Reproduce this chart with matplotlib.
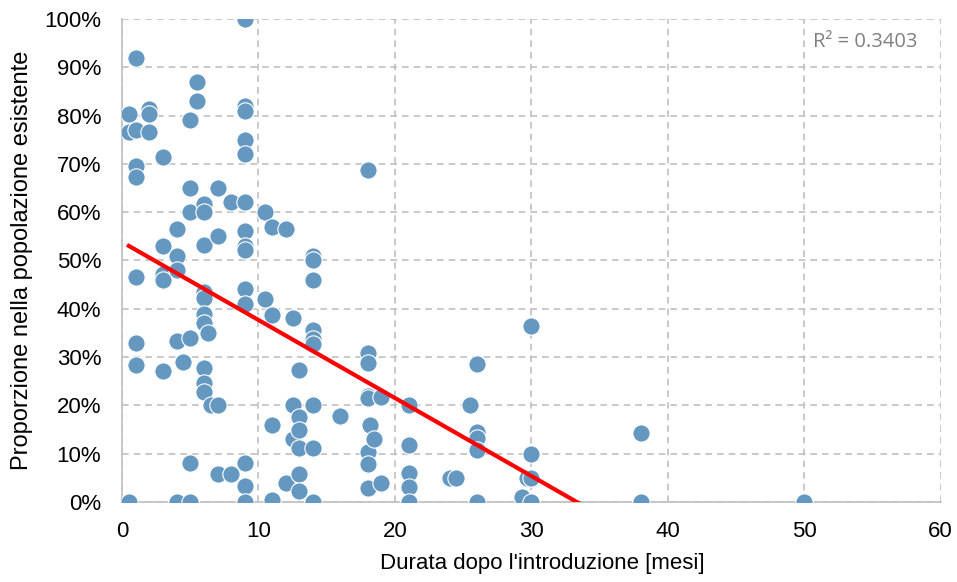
import numpy as np
import matplotlib.pyplot as plt
from matplotlib.ticker import FuncFormatter

plt.rcParams['font.family'] = ['Liberation Sans', 'DejaVu Sans']

# Months after introduction and share of the existing population (%)
mesi = [0.5, 0.5, 0.5,
        1, 1, 1, 1, 1, 1, 1,
        2, 2, 2,
        3, 3, 3, 3, 3,
        4, 4, 4, 4, 4, 4.5,
        5, 5, 5, 5, 5, 5, 5.5, 5.5,
        6, 6, 6, 6, 6, 6, 6, 6, 6, 6, 6.3, 6.5,
        7, 7, 7, 7, 8, 8,
        9, 9, 9, 9, 9, 9, 9, 9, 9, 9, 9, 9, 9, 9,
        10.5, 10.5, 11, 11, 11, 11, 12, 12, 12.5, 12.5, 12.5,
        13, 13, 13, 13, 13, 13,
        14, 14, 14, 14, 14, 14, 14, 14, 14,
        16, 18, 18, 18, 18, 18, 18, 18, 18, 18.2, 18.5, 19, 19,
        21, 21, 21, 21, 21, 24, 24.5, 25.5,
        26, 26, 26, 26, 26,
        29.3, 29.7, 30, 30, 30, 30,
        38, 38, 50]
quota = [0, 80.3, 76.5,
         92, 77, 69.5, 67.2, 46.6, 33, 28.4,
         81.3, 80.3, 76.6,
         71.4, 53, 47.2, 46, 27.1,
         56.5, 51, 48, 33.3, 0, 29,
         79, 65, 60, 34, 8, 0, 87, 83,
         61.7, 60, 53.2, 43.5, 42.3, 39, 37, 27.7, 24.6, 22.8, 35, 20,
         65, 55, 20, 5.8, 62.1, 5.8,
         100, 82, 81, 75, 72, 62, 56, 53, 52.2, 44, 41, 8, 3.3, 0,
         60, 42, 57, 38.8, 16, 0.4, 56.5, 4, 38, 20, 13,
         27.4, 17.5, 15, 11.2, 5.8, 2.2,
         51, 50, 46, 35.6, 33.8, 32.8, 20, 11.2, 0,
         17.8, 68.8, 30.9, 28.7, 22, 21.5, 10.4, 7.9, 2.9, 15.9, 13, 21.8, 4,
         20, 11.8, 6, 3.1, 0, 5, 5, 20,
         28.6, 14.5, 13.2, 10.8, 0,
         1, 5, 5, 10, 36.5, 0,
         14.3, 0, 0]

x = np.array(mesi)
y = np.array(quota) / 100

fig = plt.figure(figsize=(9.57, 5.82), dpi=100)
ax = fig.add_axes([0.1275, 0.1375, 0.8555, 0.83])

ax.scatter(x, y, s=155, color='#6598c0', edgecolor='white', linewidth=0.8, zorder=3)

# linear trend over the data range
slope, intercept = np.polyfit(x, y, 1)
xs = np.array([x.min(), x.max()])
ax.plot(xs, intercept + slope * xs, color='#ff0000', linewidth=3, zorder=4)

ax.set_xlim(0, 60)
ax.set_ylim(0, 1)
ax.set_xticks(range(0, 61, 10))
ax.set_yticks(np.arange(0, 1.01, 0.1))
ax.yaxis.set_major_formatter(FuncFormatter(lambda v, p: f'{v * 100:.0f}%'))

ax.grid(True, color='#c0c0c0', linestyle=(0, (4, 3)), linewidth=1.2)
for side in ['top', 'right']:
    ax.spines[side].set_visible(False)
for side in ['left', 'bottom']:
    ax.spines[side].set_color('#bfbfbf')
    ax.spines[side].set_linewidth(1.2)
ax.tick_params(axis='y', length=0, labelsize=16, pad=15)
ax.tick_params(axis='x', length=0, labelsize=16, pad=14)

ax.set_xlabel("Durata dopo l'introduzione [mesi]", fontsize=16)
ax.xaxis.set_label_coords(0.513, -0.105)
ax.set_ylabel('Proporzione nella popolazione esistente', fontsize=17, labelpad=8)

ax.text(58.3, 0.952, 'R² = 0.3403', ha='right', va='center',
        fontsize=14.5, color='#808080', family=['Open Sans', 'DejaVu Sans'])

fig.savefig('out.png', dpi=100)
